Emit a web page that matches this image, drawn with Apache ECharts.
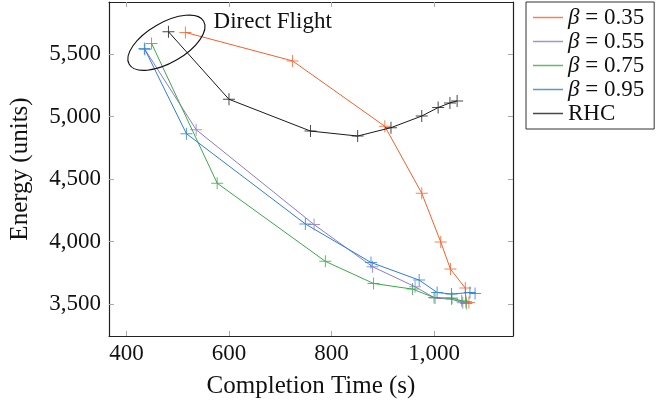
<!DOCTYPE html>
<html>
<head>
<meta charset="utf-8">
<script src="https://cdn.jsdelivr.net/npm/echarts@6/dist/echarts.min.js"></script>
<style>
  html, body { margin: 0; padding: 0; background: #fff; }
  #chart { width: 662px; height: 411px; }
</style>
</head>
<body>
<div id="chart"></div>
<script>
// values
const xTicks = [400, 600, 800, 1000];
const yTicks = [3500, 4000, 4500, 5000, 5500];

const names = ['β = 0.35', 'β = 0.55', 'β = 0.75', 'β = 0.95', 'RHC'];
const colors = ['#f5602a', '#8c79d0', '#3aaa4a', '#2b7fd6', '#1a1a1a'];

const b035X = [515, 724, 904, 976, 1013, 1032, 1061, 1062, 1068];
const b035Y = [5674, 5446, 4923, 4388, 3998, 3781, 3629, 3522, 3514];
const b055X = [436, 536, 766, 880, 963, 1002, 1034, 1056];
const b055Y = [5538, 4896, 4137, 3800, 3640, 3549, 3541, 3511];
const b075X = [449, 577, 788, 882, 958, 1000, 1035, 1054, 1063];
const b075Y = [5586, 4468, 3843, 3666, 3621, 3554, 3549, 3527, 3506];
const b095X = [435, 517, 749, 877, 971, 1006, 1034, 1070, 1080];
const b095Y = [5546, 4864, 4142, 3834, 3693, 3594, 3581, 3594, 3586];
const rhcX = [482, 600, 759, 851, 916, 976, 1008, 1031, 1045];
const rhcY = [5679, 5139, 4885, 4845, 4912, 5005, 5073, 5110, 5126];

const seriesX = [b035X, b055X, b075X, b095X, rhcX];
const seriesY = [b035Y, b055Y, b075Y, b095Y, rhcY];

const FONT = '"Liberation Serif", "DejaVu Serif", serif';
// thin plus sign, drawn filled
const PLUS = 'path://M5.5,0H6.5V12H5.5ZM0,5.5H12V6.5H0Z';

const zip = (xs, ys) => xs.map((x, i) => [x, ys[i]]);
const fmt = v => v.toLocaleString('en-US');

const chart = echarts.init(document.getElementById('chart'));

const tickStyle = { inside: true, length: 5, lineStyle: { color: '#aaa' } };

chart.setOption({
  animation: false,
  textStyle: { fontFamily: FONT },
  grid: { left: 108, right: 149, top: 2, bottom: 75 },
  legend: {
    left: 526, top: 2,
    orient: 'vertical',
    icon: 'rect', itemWidth: 30, itemHeight: 1.5,
    itemGap: 1,
    padding: [4, 10, 4, 7],
    borderColor: '#333', borderWidth: 1,
    data: names,
    formatter: n => n === 'RHC' ? n : '{b|β}' + n.slice(1),
    textStyle: {
      fontFamily: FONT, fontSize: 23, color: '#111',
      rich: { b: { fontFamily: FONT, fontSize: 23, fontStyle: 'italic', color: '#111' } }
    }
  },
  xAxis: [{
    type: 'value', min: 366, max: 1154,
    name: 'Completion Time (s)', nameLocation: 'middle', nameGap: 38,
    nameTextStyle: { fontFamily: FONT, fontSize: 25, color: '#111' },
    axisLine: { lineStyle: { color: '#222', width: 1.2 } },
    axisTick: Object.assign({ customValues: xTicks }, tickStyle),
    axisLabel: { customValues: xTicks, formatter: fmt, fontFamily: FONT, fontSize: 23, color: '#111', margin: 6 },
    splitLine: { show: false }
  }, {
    type: 'value', min: 366, max: 1154, position: 'top',
    axisLine: { lineStyle: { color: '#222', width: 1.2 } },
    axisTick: Object.assign({ customValues: xTicks }, tickStyle),
    axisLabel: { show: false },
    splitLine: { show: false }
  }],
  yAxis: [{
    type: 'value', min: 3246, max: 5917,
    name: 'Energy (units)', nameLocation: 'middle', nameGap: 76,
    nameTextStyle: { fontFamily: FONT, fontSize: 25, color: '#111' },
    axisLine: { show: true, lineStyle: { color: '#222', width: 1.2 } },
    axisTick: Object.assign({ customValues: yTicks }, tickStyle),
    axisLabel: { customValues: yTicks, formatter: fmt, fontFamily: FONT, fontSize: 23, color: '#111', margin: 8 },
    splitLine: { show: false }
  }, {
    type: 'value', min: 3246, max: 5917, position: 'right',
    axisLine: { show: true, lineStyle: { color: '#222', width: 1.2 } },
    axisTick: Object.assign({ customValues: yTicks }, tickStyle),
    axisLabel: { show: false },
    splitLine: { show: false }
  }],
  series: names.map((n, i) => ({
    name: n,
    type: 'line',
    data: zip(seriesX[i], seriesY[i]),
    symbol: PLUS,
    symbolSize: 12,
    color: colors[i],
    lineStyle: { width: 1, color: colors[i] },
    itemStyle: { color: colors[i], opacity: 0.8 },
    z: i === 4 ? 3 : 2
  }))
});

// ellipse round the direct flight points, plus its label
const c = chart.convertToPixel({ xAxisIndex: 0, yAxisIndex: 0 }, [478, 5591]);
const t = chart.convertToPixel({ xAxisIndex: 0, yAxisIndex: 0 }, [570, 5757]);
chart.setOption({
  graphic: [{
    type: 'ellipse',
    x: c[0], y: c[1],
    rotation: Math.PI / 6,
    shape: { cx: 0, cy: 0, rx: 43, ry: 20 },
    style: { fill: 'none', stroke: '#111', lineWidth: 1.1 },
    z: 10
  }, {
    type: 'text',
    x: t[0], y: t[1],
    style: { text: 'Direct Flight', font: '23px ' + FONT, fill: '#111', textVerticalAlign: 'middle' },
    z: 10
  }]
});
</script>
</body>
</html>
